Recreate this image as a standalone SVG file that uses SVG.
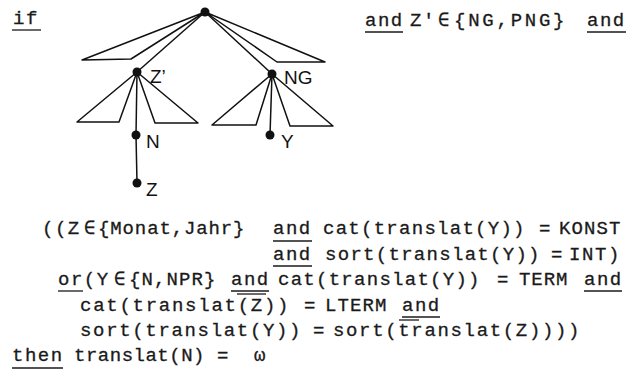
<svg xmlns="http://www.w3.org/2000/svg" width="639" height="374" viewBox="0 0 639 374">
<style>
.t{font-family:"Liberation Mono","DejaVu Sans Mono",monospace;font-size:19px;letter-spacing:1.5px;fill:#1a1a1a;stroke:#1a1a1a;stroke-width:0.3}
.l{font-family:"Liberation Sans","DejaVu Sans",sans-serif;font-size:19px;fill:#111}
.u{stroke:#1a1a1a;stroke-width:1.3;fill:none}
.e{stroke:#111;stroke-width:1.5;fill:none;stroke-linejoin:round}
.d{fill:#111}
</style>
<rect width="639" height="374" fill="#fff"/>
<g id="connectors">
<polygon class="e" points="205,12 82,60 131,59"/>
<polygon class="e" points="205,12 277,62 325,62"/>
<line class="e" x1="205" y1="12" x2="137" y2="72"/>
<line class="e" x1="205" y1="12" x2="272" y2="74"/>
<polygon class="e" points="137,72 77,122 119,122"/>
<polygon class="e" points="137,72 155,123 198,123"/>
<line class="e" x1="137" y1="72" x2="136" y2="135"/>
<line class="e" x1="136" y1="135" x2="137" y2="183"/>
<polygon class="e" points="272,74 212,125 256,125"/>
<polygon class="e" points="272,74 290,126 333,126"/>
<line class="e" x1="272" y1="74" x2="270" y2="135"/>
</g>
<g id="root"><circle class="d" cx="205" cy="12" r="4.5"/></g>
<g id="node-z1"><circle class="d" cx="137" cy="72" r="4.5"/><text class="l" x="150" y="83">Z’</text></g>
<g id="node-ng"><circle class="d" cx="272" cy="74" r="4.5"/><text class="l" x="284" y="84">NG</text></g>
<g id="node-n"><circle class="d" cx="136" cy="135" r="4.5"/><text class="l" x="146" y="148">N</text></g>
<g id="node-z"><circle class="d" cx="137" cy="183" r="4.5"/><text class="l" x="146" y="196">Z</text></g>
<g id="node-y"><circle class="d" cx="270" cy="135" r="4.5"/><text class="l" x="281" y="148">Y</text></g>
<g id="text">
<text class="t" x="13" y="24">if</text>
<line class="u" x1="12" y1="30" x2="41" y2="30"/>
<text class="t" x="365" y="26">and</text>
<line class="u" x1="365" y1="32" x2="403" y2="32"/>
<text class="t" x="410" y="26">Z'</text>
<text class="t" x="438" y="26">∈</text>
<text class="t" x="454" y="26" textLength="112">{NG,PNG}</text>
<text class="t" x="587" y="26">and</text>
<line class="u" x1="587" y1="32" x2="626" y2="32"/>

<text class="t" x="42" y="234">((Z</text>
<text class="t" x="84" y="234">∈</text>
<text class="t" x="98" y="234" textLength="148">{Monat,Jahr}</text>
<text class="t" x="273" y="234">and</text>
<line class="u" x1="273" y1="241" x2="312" y2="241"/>
<text class="t" x="323" y="234" textLength="203">cat(translat(Y))</text>
<text class="t" x="539" y="234">=</text>
<text class="t" x="559" y="234" textLength="63">KONST</text>

<text class="t" x="273" y="260">and</text>
<line class="u" x1="273" y1="266" x2="312" y2="266"/>
<text class="t" x="325" y="260" textLength="216">sort(translat(Y))</text>
<text class="t" x="551" y="260">=</text>
<text class="t" x="569" y="260" textLength="52">INT)</text>

<text class="t" x="58" y="285">or(Y</text>
<line class="u" x1="58" y1="291" x2="83" y2="291"/>
<text class="t" x="114" y="285">∈</text>
<text class="t" x="129" y="285" textLength="88">{N,NPR}</text>
<text class="t" x="231" y="285">and</text>
<line class="u" x1="231" y1="291" x2="269" y2="291"/>
<text class="t" x="278" y="285" textLength="203">cat(translat(Y))</text>
<text class="t" x="497" y="285">=</text>
<text class="t" x="519" y="285" textLength="50">TERM</text>
<text class="t" x="584" y="285">and</text>
<line class="u" x1="584" y1="291" x2="622" y2="291"/>

<text class="t" x="80" y="311" textLength="210">cat(translat(Z))</text>
<line class="u" x1="237" y1="294" x2="266" y2="294"/>
<text class="t" x="304" y="311">=</text>
<text class="t" x="325" y="311" textLength="63">LTERM</text>
<text class="t" x="402" y="311">and</text>
<line class="u" x1="402" y1="317" x2="440" y2="317"/>

<text class="t" x="80" y="336" textLength="222">sort(translat(Y))</text>
<text class="t" x="313" y="336">=</text>
<text class="t" x="333" y="336" textLength="248">sort(translat(Z))))</text>
<line class="u" x1="399" y1="320" x2="419" y2="320"/>

<text class="t" x="12" y="361">then</text>
<line class="u" x1="12" y1="368" x2="63" y2="368"/>
<text class="t" x="74" y="361" textLength="132">translat(N)</text>
<text class="t" x="217" y="361">=</text>
<text class="t" x="254" y="361">ω</text>
</g>
</svg>
